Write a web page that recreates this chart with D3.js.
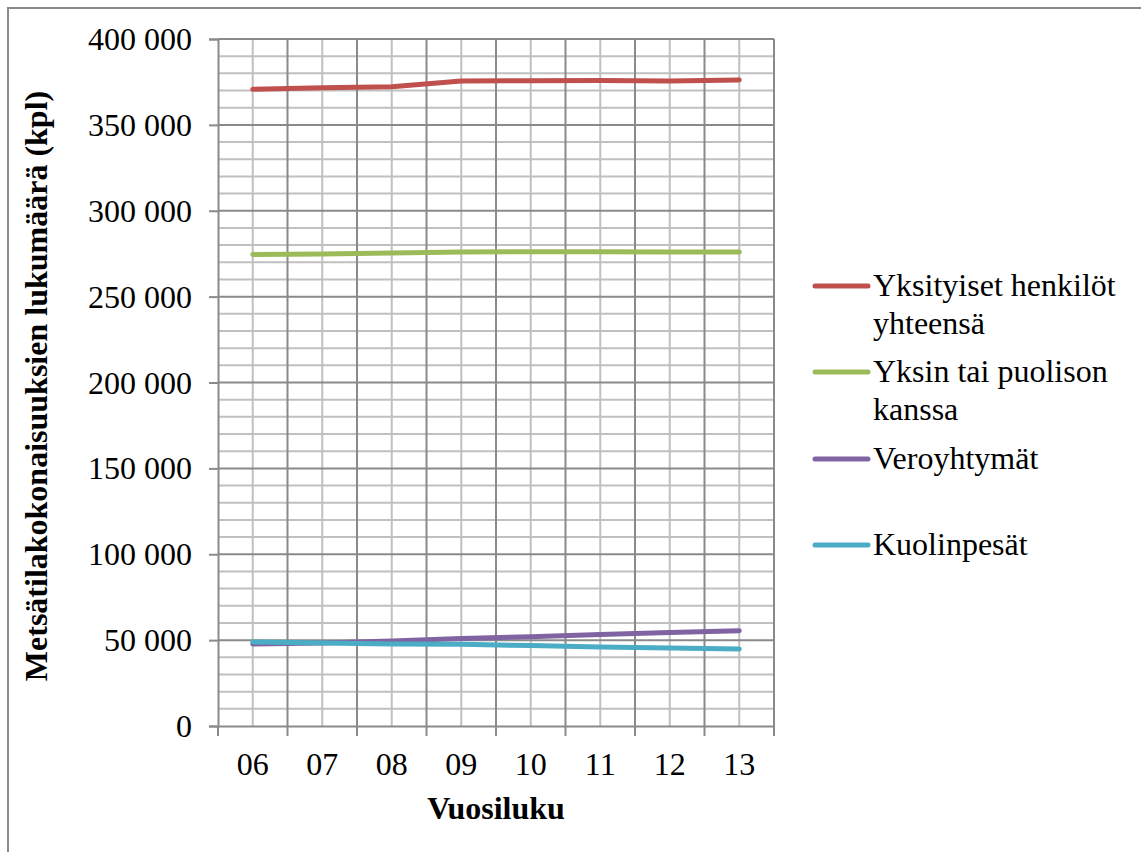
<!DOCTYPE html>
<html>
<head>
<meta charset="utf-8">
<script src="https://cdn.jsdelivr.net/npm/d3@7"></script>
<style>
  * { margin: 0; padding: 0; }
  body { background: #fff; }
  text { font-family: "Liberation Serif", "Times New Roman", serif; fill: #000; }
</style>
</head>
<body>
<div id="chart"></div>
<script>
// data
var years = ["06", "07", "08", "09", "10", "11", "12", "13"];
var yksityiset = [370700, 371600, 372200, 375500, 375700, 375800, 375600, 376100];
var yksin = [274500, 274800, 275400, 276000, 276100, 276100, 276000, 276000];
var veroyhtymat = [47700, 48300, 49500, 50900, 52000, 53300, 54400, 55500];
var kuolinpesat = [48900, 48300, 47800, 47600, 46800, 46000, 45400, 44800];
var seriesNames = [["Yksityiset henkilöt", "yhteensä"], ["Yksin tai puolison", "kanssa"], ["Veroyhtymät"], ["Kuolinpesät"]];
var colors = ["#C0504D", "#9BBB59", "#8064A2", "#4BACC6"];
var yTicks = [0, 50000, 100000, 150000, 200000, 250000, 300000, 350000, 400000];

var allSeries = [yksityiset, yksin, veroyhtymat, kuolinpesat];

var W = 1141, H = 852;
var plot = { left: 218, right: 774, top: 39, bottom: 726 };
var serif = "'Liberation Serif', 'Times New Roman', serif";
var fs = "32px";

var svg = d3.select("#chart").append("svg")
    .attr("width", W)
    .attr("height", H);

// outer frame (goes past the right/bottom edges)
svg.append("rect")
    .attr("x", 8).attr("y", 8)
    .attr("width", W + 20).attr("height", H + 20)
    .attr("fill", "none")
    .attr("stroke", "#8a8a8a")
    .attr("stroke-width", 2);

var x = d3.scaleBand()
    .domain(years)
    .range([plot.left, plot.right]);

var y = d3.scaleLinear()
    .domain([0, 400000])
    .range([plot.bottom, plot.top]);

// minor horizontal grid every 10 000
var minor = d3.range(0, 400001, 10000).filter(v => v % 50000 != 0);
svg.append("g").selectAll("line")
    .data(minor).enter().append("line")
    .attr("x1", plot.left).attr("x2", plot.right)
    .attr("y1", d => y(d)).attr("y2", d => y(d))
    .attr("stroke", "#c0c0c0").attr("stroke-width", 2);

// minor vertical grid at category centres
svg.append("g").selectAll("line")
    .data(years).enter().append("line")
    .attr("x1", d => x(d) + x.bandwidth() / 2).attr("x2", d => x(d) + x.bandwidth() / 2)
    .attr("y1", plot.top).attr("y2", plot.bottom)
    .attr("stroke", "#c0c0c0").attr("stroke-width", 2);

// major horizontal grid
svg.append("g").selectAll("line")
    .data(yTicks.slice(1)).enter().append("line")
    .attr("x1", plot.left).attr("x2", plot.right)
    .attr("y1", d => y(d)).attr("y2", d => y(d))
    .attr("stroke", "#8a8a8a").attr("stroke-width", 2);

// major vertical grid at category boundaries
svg.append("g").selectAll("line")
    .data(years.slice(1).concat(["end"])).enter().append("line")
    .attr("x1", (d, i) => i < years.length - 1 ? x(d) : plot.right)
    .attr("x2", (d, i) => i < years.length - 1 ? x(d) : plot.right)
    .attr("y1", plot.top).attr("y2", plot.bottom)
    .attr("stroke", "#8a8a8a").attr("stroke-width", 2);

// y axis
var fmt = v => d3.format(",")(v).replace(/,/g, " ");
var yAxis = svg.append("g")
    .attr("transform", "translate(" + plot.left + ",0)")
    .call(d3.axisLeft(y).tickValues(yTicks).tickFormat(fmt).tickSize(9).tickPadding(17));
yAxis.select(".domain").attr("stroke", "#8a8a8a").attr("stroke-width", 2);
yAxis.selectAll(".tick line").attr("stroke", "#8a8a8a").attr("stroke-width", 2);
yAxis.selectAll("text")
    .style("font-family", serif)
    .style("font-size", fs)
    .attr("dy", "0.33em");

// x axis
var xAxis = svg.append("g")
    .attr("transform", "translate(0," + plot.bottom + ")")
    .call(d3.axisBottom(x).tickSize(0).tickPadding(26));
xAxis.select(".domain").attr("stroke", "#8a8a8a").attr("stroke-width", 2);
xAxis.selectAll("text")
    .style("font-family", serif)
    .style("font-size", fs);
svg.append("g").selectAll("line")
    .data(years.concat(["end"])).enter().append("line")
    .attr("x1", (d, i) => i < years.length ? x(d) : plot.right)
    .attr("x2", (d, i) => i < years.length ? x(d) : plot.right)
    .attr("y1", plot.bottom).attr("y2", plot.bottom + 10)
    .attr("stroke", "#8a8a8a").attr("stroke-width", 2);

// lines
var line = d3.line()
    .x((d, i) => x(years[i]) + x.bandwidth() / 2)
    .y(d => y(d));

allSeries.forEach(function (s, i) {
    svg.append("path")
        .datum(s)
        .attr("d", line)
        .attr("fill", "none")
        .attr("stroke", colors[i])
        .attr("stroke-width", 5)
        .attr("stroke-linecap", "round")
        .attr("stroke-linejoin", "round");
});

// axis titles
svg.append("text")
    .attr("x", (plot.left + plot.right) / 2)
    .attr("y", 819)
    .attr("text-anchor", "middle")
    .style("font-family", serif)
    .style("font-size", fs)
    .style("font-weight", "bold")
    .text("Vuosiluku");

svg.append("text")
    .attr("transform", "translate(47,386) rotate(-90)")
    .attr("text-anchor", "middle")
    .style("font-family", serif)
    .style("font-size", fs)
    .style("font-weight", "bold")
    .text("Metsätilakokonaisuuksien lukumäärä (kpl)");

// legend
var legendY = [286, 372, 459, 545];
seriesNames.forEach(function (name, i) {
    svg.append("line")
        .attr("x1", 815).attr("x2", 868)
        .attr("y1", legendY[i]).attr("y2", legendY[i])
        .attr("stroke", colors[i])
        .attr("stroke-width", 5)
        .attr("stroke-linecap", "round");
    var t = svg.append("text")
        .attr("x", 873)
        .attr("y", legendY[i] + 10)
        .style("font-family", serif)
        .style("font-size", fs);
    name.forEach(function (part, j) {
        t.append("tspan")
            .attr("x", 873)
            .attr("dy", j == 0 ? 0 : 38)
            .text(part);
    });
});
</script>
</body>
</html>
